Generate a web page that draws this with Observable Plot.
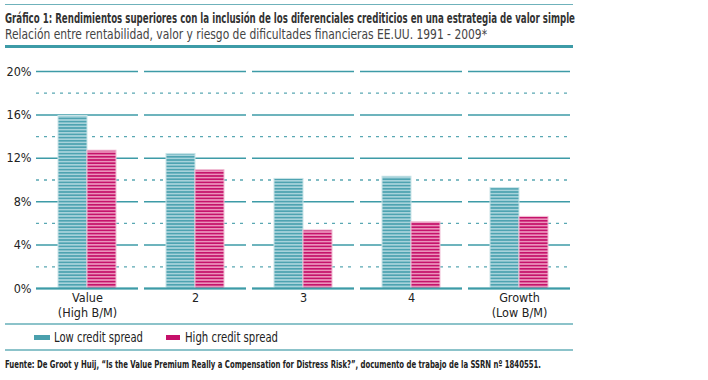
<!DOCTYPE html>
<html>
<head>
<meta charset="utf-8">
<script src="https://cdn.jsdelivr.net/npm/d3@7"></script>
<script src="https://cdn.jsdelivr.net/npm/@observablehq/plot@0.6"></script>
<style>
  body { margin: 0; background: #fff; }
  #wrap { position: relative; width: 708px; height: 380px; overflow: hidden;
    font-family: "DejaVu Sans Condensed", "Liberation Sans Narrow", "Roboto", sans-serif; color: #333; }
  .rule { position: absolute; left: 5px; width: 568px; background: #3d9ba7; }
  .fit { position: absolute; white-space: nowrap; transform-origin: 0 0; }
  #title { left: 5px; top: 10px; font-size: 14px; font-weight: bold; color: #333; }
  #subtitle { left: 5px; top: 26px; font-size: 13.5px; color: #444; }
  #chart { position: absolute; left: 0; top: 60px; }
  #source { left: 5px; top: 359px; font-size: 10px; font-weight: bold; color: #222; }
  .leg { top: 329px; font-size: 14px; color: #222; }
  .sw { position: absolute; top: 335px; height: 5px; }
</style>
</head>
<body>
<div id="wrap">
  <div class="rule" style="top:4px;height:1px;background:#6fb2bb"></div>
  <div id="title" class="fit" data-w="570">Gráfico 1: Rendimientos superiores con la inclusión de los diferenciales crediticios en una estrategia de valor simple</div>
  <div id="subtitle" class="fit" data-w="482">Relación entre rentabilidad, valor y riesgo de dificultades financieras EE.UU. 1991 - 2009*</div>
  <div class="rule" style="top:45px;height:3px"></div>
  <div id="chart"></div>
  <div class="rule" style="top:323px;height:2px;background:#8cc3ca"></div>
  <div id="legend"></div>
  <div class="rule" style="top:349px;height:2px;background:#8cc3ca"></div>
  <div id="source" class="fit" data-w="536">Fuente: De Groot y Huij, “Is the Value Premium Really a Compensation for Distress Risk?”, documento de trabajo de la SSRN nº 1840551.</div>
</div>
<script>
const categories = ["Value", "2", "3", "4", "Growth"];
const tickLabels = ["Value\n(High B/M)", "2", "3", "4", "Growth\n(Low B/M)"];
const seriesNames = ["Low credit spread", "High credit spread"];
const lowSpread = [15.9, 12.4, 10.1, 10.3, 9.25];
const highSpread = [12.7, 10.9, 5.35, 6.1, 6.6];
const solidTicks = [0, 4, 8, 12, 16, 20];
const dashedTicks = [2, 6, 10, 14, 18];

const data = categories.flatMap((c, i) => [
  {cat: c, series: seriesNames[0], value: lowSpread[i]},
  {cat: c, series: seriesNames[1], value: highSpread[i]}
]);

const font = '"DejaVu Sans Condensed", "Liberation Sans Narrow", sans-serif';
const plot = Plot.plot({
  width: 708,
  height: 265,
  marginTop: 11,
  marginBottom: 37,
  marginLeft: 34,
  marginRight: 135,
  style: {fontFamily: font, fontSize: "12.5px", color: "#222", background: "transparent"},
  fx: {domain: categories, padding: 0.055, label: null, axis: null},
  x: {domain: seriesNames, paddingInner: 0, paddingOuter: 0.72, axis: null},
  y: {domain: [0, 20], label: null, axis: null},
  marks: [
    Plot.axisFx({anchor: "bottom", tickSize: 0, tickPadding: 3, lineHeight: 1.2, fontSize: 12.5, label: null,
      tickFormat: (d) => tickLabels[categories.indexOf(d)]}),
    Plot.axisY({ticks: solidTicks, tickSize: 0, tickPadding: 5, fontSize: 12.5, label: null, tickFormat: (d) => d + "%"}),
    Plot.ruleY(dashedTicks, {stroke: "#5aa8b3", strokeWidth: 1.3, strokeDasharray: "3,5"}),
    Plot.ruleY(solidTicks, {stroke: "#3d9ba7", strokeWidth: 1.5}),
    Plot.barY(data.filter(d => d.series === seriesNames[0]), {fx: "cat", x: "series", y: "value", fill: "url(#stripeLow)", stroke: "#c9e4e8", strokeWidth: 1}),
    Plot.barY(data.filter(d => d.series === seriesNames[1]), {fx: "cat", x: "series", y: "value", fill: "url(#stripeHigh)", stroke: "#f0bcd3", strokeWidth: 1}),
    Plot.ruleY([0], {stroke: "#3d9ba7", strokeWidth: 2})
  ]
});

const svg = d3.select(plot);
const defs = svg.insert("defs", ":first-child");
function stripe(id, dark, light) {
  const p = defs.append("pattern").attr("id", id).attr("patternUnits", "userSpaceOnUse")
    .attr("width", 8).attr("height", 3.2);
  p.append("rect").attr("width", 8).attr("height", 3.2).attr("fill", light);
  p.append("rect").attr("width", 8).attr("height", 1.6).attr("fill", dark);
}
stripe("stripeLow", "#4ea3b1", "#a7d3db");
stripe("stripeHigh", "#c5136b", "#eb93bb");
svg.selectAll("text").style("font-stretch", "condensed");

document.getElementById("chart").appendChild(plot);

// legend
const wrap = d3.select("#wrap");
const swColors = ["#4aa0ad", "#c5106a"];
const swX = [34, 166], swW = [16, 14], textX = [54, 185], textW = [89, 93];
seriesNames.forEach((s, i) => {
  wrap.append("div").attr("class", "sw").style("left", swX[i] + "px").style("width", swW[i] + "px").style("background", swColors[i]);
  wrap.append("div").attr("class", "fit leg").attr("data-w", textW[i]).style("left", textX[i] + "px").text(s);
});

// fit condensed text widths
document.querySelectorAll(".fit").forEach(el => {
  const w = el.getBoundingClientRect().width;
  const target = +el.dataset.w;
  if (w > 0 && target) el.style.transform = `scaleX(${target / w})`;
});
</script>
</body>
</html>
